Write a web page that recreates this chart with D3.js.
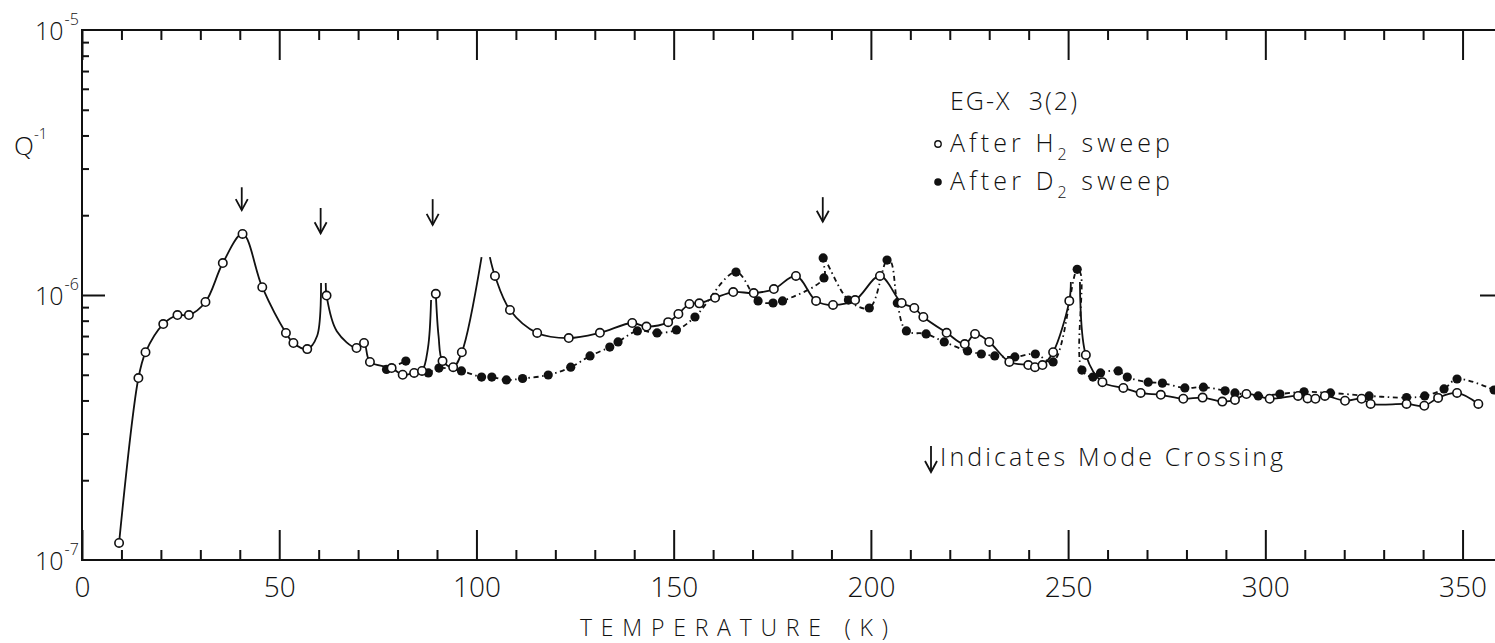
<!DOCTYPE html>
<html>
<head>
<meta charset="utf-8">
<script src="https://cdn.jsdelivr.net/npm/d3@7"></script>
<style>
  body { margin: 0; background: #fff; }
  svg { display: block; }
  text { font-family: "Open Sans", "DejaVu Sans", sans-serif; font-weight: 300; fill: #111; }
</style>
</head>
<body>
<div id="chart"></div>
<script>
// temperature ticks (K)
const xTickLabels = [0, 50, 100, 150, 200, 250, 300, 350];
// decades on the Q^-1 axis
const yDecades = [-5, -6, -7];

// after H2 sweep (open circles) [T, Q^-1]; 'p' = curve vertex with no marker, null = pen lift
const h2Sweep = [
  [9.4, 1.16e-7], [14.3, 4.86e-7], [16.1, 6.08e-7], [20.6, 7.77e-7], [24.2, 8.40e-7],
  [27.1, 8.40e-7], [31.3, 9.41e-7], [35.7, 1.32e-6], [40.7, 1.70e-6], [45.7, 1.07e-6],
  [51.7, 7.19e-7], [53.6, 6.59e-7], [57.1, 6.25e-7], [59.6, 7.0e-7, 'p'], [60.6, 1.11e-6, 'p'],
  null,
  [61.8, 1.11e-6, 'p'], [62.0, 9.95e-7], [64.6, 7.3e-7, 'p'], [69.6, 6.31e-7], [71.5, 6.59e-7],
  [73.0, 5.59e-7], [78.5, 5.30e-7], [81.3, 5.00e-7], [84.2, 5.08e-7], [86.2, 5.17e-7],
  [87.7, 6.3e-7, 'p'], [88.5, 9.57e-7, 'p'],
  null,
  [89.7, 1.01e-6], [90.4, 7.0e-7, 'p'], [91.4, 5.63e-7], [94.1, 5.34e-7], [96.3, 6.08e-7],
  [101.3, 1.39e-6, 'p'],
  null,
  [103.4, 1.39e-6, 'p'], [104.7, 1.18e-6], [108.5, 8.78e-7], [115.4, 7.19e-7], [123.4, 6.88e-7],
  [131.3, 7.20e-7], [139.5, 7.84e-7], [143.1, 7.60e-7], [148.6, 7.90e-7], [151.2, 8.48e-7],
  [154.0, 9.25e-7], [156.5, 9.30e-7], [160.5, 9.76e-7], [165.1, 1.026e-6], [170.3, 1.017e-6],
  [175.4, 1.053e-6], [181.0, 1.18e-6], [186.1, 9.50e-7], [190.4, 9.17e-7], [196.0, 9.57e-7],
  [202.3, 1.18e-6], [207.8, 9.33e-7], [211.0, 8.93e-7], [213.3, 8.26e-7], [219.2, 7.20e-7],
  [223.8, 6.53e-7], [226.4, 7.13e-7], [230.0, 6.65e-7], [235.1, 5.59e-7], [239.9, 5.44e-7],
  [241.6, 5.34e-7], [243.5, 5.44e-7], [246.2, 6.08e-7], [250.3, 9.50e-7], [250.7, 1.12e-6, 'p'],
  null,
  [253.0, 1.12e-6, 'p'], [254.5, 5.94e-7], [258.7, 4.69e-7], [264.0, 4.46e-7], [268.4, 4.27e-7],
  [273.5, 4.20e-7], [279.2, 4.06e-7], [284.1, 4.10e-7], [289.1, 3.96e-7], [292.3, 4.02e-7],
  [295.2, 4.23e-7], [301.1, 4.06e-7], [308.3, 4.16e-7], [310.7, 4.07e-7], [312.7, 4.06e-7],
  [315.1, 4.16e-7], [320.2, 3.99e-7], [324.4, 4.06e-7], [326.7, 3.88e-7], [335.8, 3.88e-7],
  [340.3, 3.82e-7], [343.8, 4.09e-7], [348.6, 4.27e-7], [354.0, 3.88e-7]
];

// after D2 sweep (filled circles)
const d2Sweep = [
  [77.2, 5.24e-7], [82.1, 5.63e-7],
  null,
  [87.8, 5.08e-7], [90.5, 5.30e-7], [96.2, 5.17e-7], [101.3, 4.90e-7], [103.9, 4.90e-7],
  [107.6, 4.78e-7], [111.7, 4.84e-7], [118.2, 4.99e-7], [123.9, 5.34e-7], [128.8, 5.89e-7],
  [133.8, 6.36e-7], [135.9, 6.65e-7], [140.8, 7.32e-7], [145.8, 7.19e-7], [150.7, 7.38e-7],
  [155.4, 8.26e-7], [165.8, 1.22e-6], [171.4, 9.50e-7], [175.2, 9.33e-7], [177.6, 9.50e-7],
  [188.1, 1.16e-6], [187.9, 1.38e-6], [194.3, 9.57e-7], [199.6, 8.93e-7], [204.1, 1.355e-6],
  [205.1, 1.33e-6, 'p'], [206.7, 9.33e-7], [209.0, 7.32e-7], [214.0, 7.13e-7], [218.6, 6.65e-7],
  [224.5, 6.15e-7], [228.0, 5.99e-7], [231.4, 5.89e-7], [236.5, 5.84e-7], [241.7, 5.99e-7],
  [246.2, 5.59e-7], [252.3, 1.25e-6], [253.2, 1.20e-6, 'p'], [253.5, 5.21e-7], [256.3, 4.90e-7],
  [258.2, 5.08e-7], [262.7, 5.17e-7], [265.0, 4.90e-7], [270.3, 4.69e-7], [273.9, 4.65e-7],
  [279.6, 4.46e-7], [284.3, 4.49e-7], [289.8, 4.35e-7], [292.3, 4.27e-7], [298.2, 4.16e-7],
  [303.7, 4.23e-7], [309.8, 4.31e-7], [316.5, 4.27e-7], [326.3, 4.16e-7], [335.8, 4.10e-7],
  [340.4, 4.16e-7], [345.3, 4.42e-7], [348.6, 4.82e-7], [358.0, 4.38e-7]
];

// mode crossing arrows
const arrowTemp = [40.5, 60.5, 88.9, 187.8];
const arrowTop = [2.55e-6, 2.13e-6, 2.30e-6, 2.34e-6];
const arrowTip = [2.09e-6, 1.71e-6, 1.84e-6, 1.89e-6];

const legendTitle = "EG-X  3(2)";
const legendNote = "Indicates Mode Crossing";

class QPlot {
  constructor(config) {
    this.config = config;
    this.svg = null;
    this.margins = null;
    this.xScale = null;
    this.yScale = null;
    this.createSvg();
    this.createMargins();
  }

  createSvg() {
    this.svg = d3.select(this.config.div)
      .append("svg")
      .attr("width", 1495)
      .attr("height", 643);
  }

  createMargins() {
    this.margins = this.svg
      .append("g")
      .attr("transform", `translate(${this.config.left},${this.config.top})`);
  }

  createScales() {
    this.xScale = d3.scaleLinear().domain([0, 360]).range([0, this.config.width]);
    this.yScale = d3.scaleLog().domain([1e-7, 1e-5]).range([this.config.height, 0]);
  }

  createAxis() {
    let w = this.config.width, h = this.config.height;
    let minorX = d3.range(0, 361, 10).filter(d => d % 50 != 0);
    let minorY = [];
    [1e-7, 1e-6].forEach(b => { for (let k = 2; k <= 9; k++) minorY.push(b * k); });

    let style = g => {
      g.select(".domain").remove();
      g.selectAll("line").attr("stroke", "#111").attr("stroke-width", 2);
    };

    this.margins.append("g").attr("transform", `translate(0,${h})`)
      .call(d3.axisBottom(this.xScale).tickValues(minorX).tickSize(-10).tickFormat(""))
      .call(style);
    let bx = this.margins.append("g").attr("transform", `translate(0,${h})`)
      .call(d3.axisBottom(this.xScale).tickValues(xTickLabels).tickSize(-30).tickPadding(17))
      .call(style);
    bx.selectAll("text").attr("font-size", 28).attr("fill", "#111")
      .style("font-family", '"Open Sans", "DejaVu Sans", sans-serif');

    this.margins.append("g")
      .call(d3.axisTop(this.xScale).tickValues(minorX).tickSize(-10).tickFormat(""))
      .call(style);
    this.margins.append("g")
      .call(d3.axisTop(this.xScale).tickValues(xTickLabels).tickSize(-30).tickFormat(""))
      .call(style);

    this.margins.append("g")
      .call(d3.axisLeft(this.yScale).tickValues(minorY).tickSize(-7).tickFormat(""))
      .call(style);
    this.margins.append("g")
      .call(d3.axisLeft(this.yScale).tickValues([1e-6]).tickSize(-23).tickFormat(""))
      .call(style);
    this.margins.append("g").attr("transform", `translate(${w},0)`)
      .call(d3.axisRight(this.yScale).tickValues([1e-6]).tickSize(-22).tickFormat(""))
      .call(style);

    this.margins.append("rect")
      .attr("width", w).attr("height", h)
      .attr("fill", "none").attr("stroke", "#111").attr("stroke-width", 2);

    // decade labels 10^-n
    yDecades.forEach(e => {
      let yy = this.yScale(Math.pow(10, e));
      let t = this.margins.append("text").attr("x", -47).attr("y", yy + 10).attr("font-size", 25);
      t.append("tspan").text("10");
      t.append("tspan").attr("font-size", 16).attr("dy", -15).attr("dx", 1).text("-" + (-e));
    });

    let yl = this.svg.append("text").attr("x", 14).attr("y", 155).attr("font-size", 26);
    yl.append("tspan").text("Q");
    yl.append("tspan").attr("font-size", 15).attr("dy", -16).text("-1");

    this.svg.append("text").attr("x", 580).attr("y", 636)
      .attr("font-size", 23).attr("textLength", 308).attr("lengthAdjust", "spacing")
      .text("TEMPERATURE (K)");
  }

  render() {
    let x = this.xScale, y = this.yScale;
    let line = d3.line()
      .defined(d => d != null)
      .x(d => x(d[0])).y(d => y(d[1]))
      .curve(d3.curveCatmullRom.alpha(0.5));

    this.margins.append("path").datum(d2Sweep)
      .attr("d", line).attr("fill", "none").attr("stroke", "#111")
      .attr("stroke-width", 1.8).attr("stroke-dasharray", "5,3.5,1.5,3.5");
    this.margins.append("path").datum(h2Sweep)
      .attr("d", line).attr("fill", "none").attr("stroke", "#111").attr("stroke-width", 1.8);

    this.margins.selectAll("circle.d2")
      .data(d2Sweep.filter(d => d && !d[2]))
      .join("circle").attr("class", "d2")
      .attr("cx", d => x(d[0])).attr("cy", d => y(d[1]))
      .attr("r", 4.6).attr("fill", "#111");
    this.margins.selectAll("circle.h2")
      .data(h2Sweep.filter(d => d && !d[2]))
      .join("circle").attr("class", "h2")
      .attr("cx", d => x(d[0])).attr("cy", d => y(d[1]))
      .attr("r", 4.2).attr("fill", "#fff").attr("stroke", "#111").attr("stroke-width", 1.6);

    // arrows
    arrowTemp.forEach((t, i) => {
      let ax = x(t), y0 = y(arrowTop[i]), y1 = y(arrowTip[i]);
      this.drawArrow(this.margins, ax, y0, y1);
    });

    // legend
    this.svg.append("text").attr("x", 950).attr("y", 110).attr("font-size", 25)
      .attr("textLength", 127).attr("lengthAdjust", "spacing").style("white-space", "pre")
      .text(legendTitle);

    this.svg.append("circle").attr("cx", 938).attr("cy", 144).attr("r", 3.2)
      .attr("fill", "#fff").attr("stroke", "#111").attr("stroke-width", 1.4);
    let t1 = this.svg.append("text").attr("x", 950).attr("y", 152).attr("font-size", 25)
      .attr("textLength", 220).attr("lengthAdjust", "spacing");
    t1.append("tspan").text("After H");
    t1.append("tspan").attr("font-size", 16).attr("dy", 8).text("2");
    t1.append("tspan").attr("dy", -8).text(" sweep");

    this.svg.append("circle").attr("cx", 938).attr("cy", 182).attr("r", 3.8).attr("fill", "#111");
    let t2 = this.svg.append("text").attr("x", 950).attr("y", 190).attr("font-size", 25)
      .attr("textLength", 220).attr("lengthAdjust", "spacing");
    t2.append("tspan").text("After D");
    t2.append("tspan").attr("font-size", 16).attr("dy", 8).text("2");
    t2.append("tspan").attr("dy", -8).text(" sweep");

    this.drawArrow(this.svg, 931, 446, 472);
    this.svg.append("text").attr("x", 940).attr("y", 466).attr("font-size", 25)
      .attr("textLength", 343).attr("lengthAdjust", "spacing")
      .text(legendNote);
  }

  drawArrow(g, ax, y0, y1) {
    g.append("line").attr("x1", ax).attr("x2", ax).attr("y1", y0).attr("y2", y1)
      .attr("stroke", "#111").attr("stroke-width", 1.8);
    g.append("path")
      .attr("d", `M${ax - 6},${y1 - 11}L${ax},${y1}L${ax + 6},${y1 - 11}`)
      .attr("fill", "none").attr("stroke", "#111").attr("stroke-width", 1.8);
  }
}

function main() {
  let c = { div: "#chart", width: 1420, height: 530, top: 30, left: 82 };
  let app = new QPlot(c);
  app.createScales();
  app.createAxis();
  app.render();
}

main();
</script>
</body>
</html>
